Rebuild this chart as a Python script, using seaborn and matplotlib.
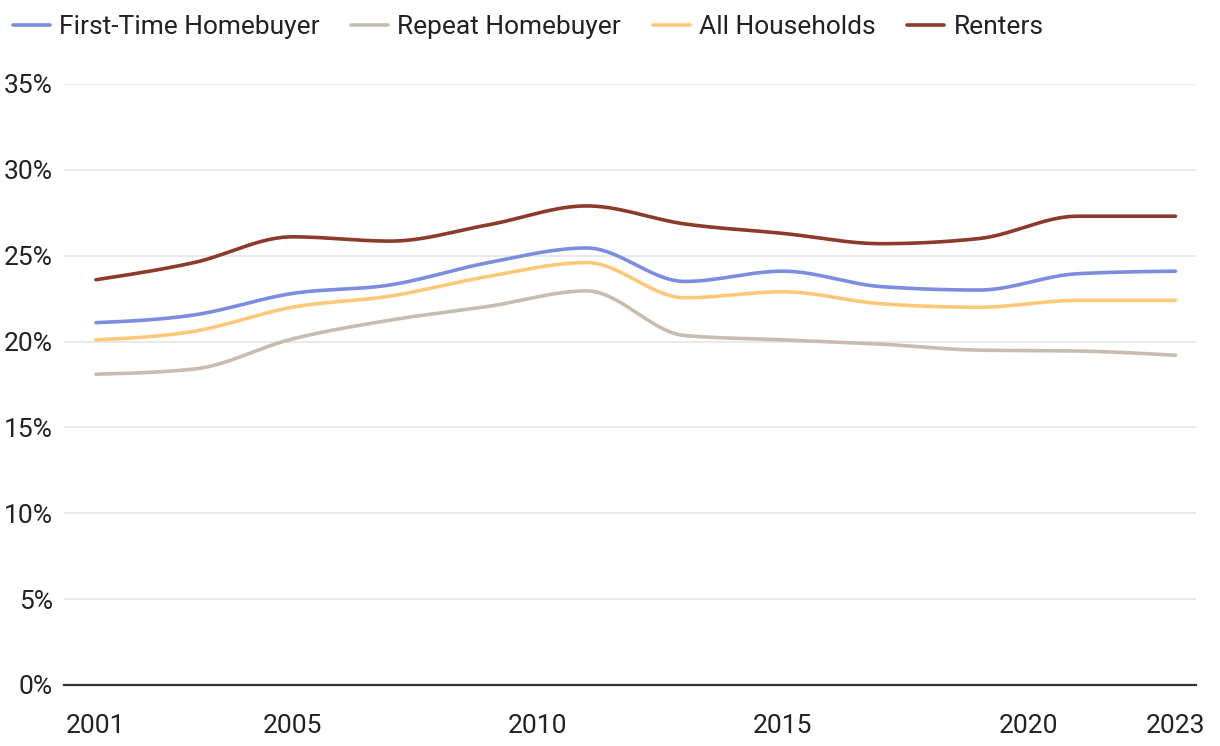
import numpy as np
import pandas as pd
import matplotlib
matplotlib.use('Agg')
import matplotlib.pyplot as plt
import seaborn as sns

# Data (AHS survey years), share of income in percent
years = [2001, 2003, 2005, 2007, 2009, 2011, 2013, 2015, 2017, 2019, 2021, 2023]
first_time = [21.1, 21.55, 22.8, 23.3, 24.6, 25.45, 23.5, 24.1, 23.2, 23.0, 23.95, 24.1]
repeat = [18.1, 18.4, 20.15, 21.25, 22.05, 22.95, 20.35, 20.1, 19.85, 19.5, 19.45, 19.2]
all_households = [20.1, 20.6, 22.0, 22.65, 23.8, 24.6, 22.55, 22.9, 22.2, 22.0, 22.4, 22.4]
renters = [23.6, 24.6, 26.1, 25.85, 26.8, 27.9, 26.85, 26.3, 25.7, 26.0, 27.3, 27.3]

series_names = ['First-Time Homebuyer', 'Repeat Homebuyer', 'All Households', 'Renters']
series_values = [first_time, repeat, all_households, renters]
colors = ['#7b8de0', '#c8bcb0', '#ffc878', '#8b3a2b']
x_ticks = [2001, 2005, 2010, 2015, 2020, 2023]
y_ticks = [0, 5, 10, 15, 20, 25, 30, 35]


def monotone_curve(x, y, n=30):
    # monotone cubic (d3 curveMonotoneX style) for drawing the line smoothly
    x = np.asarray(x, float)
    y = np.asarray(y, float)
    h = np.diff(x)
    s = np.diff(y) / h
    m = np.zeros_like(y)
    for i in range(1, len(y) - 1):
        if s[i - 1] * s[i] <= 0:
            m[i] = 0
        else:
            p = (s[i - 1] * h[i] + s[i] * h[i - 1]) / (h[i - 1] + h[i])
            m[i] = (np.sign(s[i - 1]) + np.sign(s[i])) * min(abs(s[i - 1]), abs(s[i]), 0.5 * abs(p))
    m[0] = (3 * s[0] - m[1]) / 2 if len(y) > 2 else s[0]
    m[-1] = (3 * s[-1] - m[-2]) / 2 if len(y) > 2 else s[-1]
    xs, ys = [], []
    for i in range(len(x) - 1):
        t = np.linspace(0, 1, n, endpoint=(i == len(x) - 2))
        h00 = 2 * t**3 - 3 * t**2 + 1
        h10 = t**3 - 2 * t**2 + t
        h01 = -2 * t**3 + 3 * t**2
        h11 = t**3 - t**2
        xs.append(x[i] + t * h[i])
        ys.append(h00 * y[i] + h10 * h[i] * m[i] + h01 * y[i + 1] + h11 * h[i] * m[i + 1])
    return np.concatenate(xs), np.concatenate(ys)


frames = []
for name, vals in zip(series_names, series_values):
    cx, cy = monotone_curve(years, vals)
    frames.append(pd.DataFrame({'Year': cx, 'Value': cy, 'Series': name}))
df = pd.concat(frames, ignore_index=True)

sns.set_style('white')
plt.rcParams['font.family'] = ['Roboto', 'DejaVu Sans']

fig = plt.figure(figsize=(12.2, 7.46), dpi=100)
ax = fig.add_axes([0.0525, 0.0818, 0.9275, 0.8056])

sns.lineplot(data=df, x='Year', y='Value', hue='Series', hue_order=series_names,
             palette=colors, linewidth=2.6, estimator=None, sort=False, ax=ax)

ax.set_xlim(2000.35, 2023.41)
ax.set_ylim(0, 35)
ax.set_yticks(y_ticks)
ax.set_yticklabels([f'{v}%' for v in y_ticks])
ax.set_xticks(x_ticks)
ax.set_xticklabels([str(v) for v in x_ticks])
ax.set_xlabel('')
ax.set_ylabel('')

ax.grid(axis='y', color='#e3e3e3', linewidth=1.1)
ax.set_axisbelow(True)
for side in ['top', 'right', 'left']:
    ax.spines[side].set_visible(False)
ax.spines['bottom'].set_color('#333333')
ax.spines['bottom'].set_linewidth(1.6)
ax.tick_params(axis='y', length=0, pad=8, labelsize=19, labelcolor='#222222')
ax.tick_params(axis='x', length=8, width=1.3, color='#333333', pad=13,
               labelsize=19, labelcolor='#222222')

handles, labels = ax.get_legend_handles_labels()
ax.legend_.remove()
fig.legend(handles, labels, loc='upper left', bbox_to_anchor=(-0.009, 1.012), ncol=4,
           frameon=False, fontsize=19, handlelength=1.4, handletextpad=0.35,
           columnspacing=1.2, labelcolor='#222222')

fig.savefig('out.png', dpi=100)
